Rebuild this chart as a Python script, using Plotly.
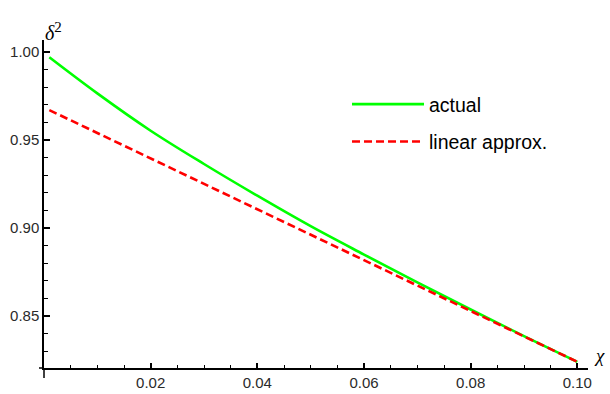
import plotly.graph_objects as go

# data
chi = [0.001, 0.01, 0.02, 0.03, 0.04, 0.05, 0.06, 0.07, 0.08, 0.09, 0.10]
delta2_actual = [0.9970, 0.9765, 0.9553, 0.9364, 0.9184, 0.9011, 0.8850, 0.8692, 0.8538, 0.8387, 0.8241]
delta2_linear = [0.9670, 0.9540, 0.9395, 0.9251, 0.9107, 0.8962, 0.8818, 0.8674, 0.8530, 0.8385, 0.8241]
x_ticks = [0.02, 0.04, 0.06, 0.08, 0.10]
y_ticks = [0.85, 0.90, 0.95, 1.00]
x_range = [0.0, 0.102]
y_range = [0.8206, 1.0068]

fig = go.Figure()
fig.add_trace(go.Scatter(x=chi, y=delta2_actual, mode="lines", name="actual",
                         line=dict(color="#00ff00", width=2.6, shape="spline"),
                         legendgroup="a"))
fig.add_trace(go.Scatter(x=chi, y=delta2_linear, mode="lines", name="linear approx.",
                         line=dict(color="#ff0000", width=2.6, dash="8px,4px"),
                         legendgroup="b"))

tickfont = dict(family="Liberation Sans, Arial, sans-serif", size=15, color="#2a2a2a")
fig.update_layout(
    width=610, height=394,
    margin=dict(l=44.3, r=22, t=40, b=26, autoexpand=False),
    paper_bgcolor="white", plot_bgcolor="white",
    showlegend=True,
    legend=dict(x=0.557, y=0.863, xanchor="left", yanchor="top",
                font=dict(family="Liberation Sans, Arial, sans-serif", size=19.5, color="#000000"),
                bgcolor="rgba(0,0,0,0)", itemwidth=72,
                traceorder="grouped", tracegroupgap=9),
    xaxis=dict(range=x_range, showgrid=False, zeroline=False, showline=True,
               linecolor="black", linewidth=1.5, ticks="inside", ticklen=5,
               tickcolor="black", tickwidth=1.5, tickvals=x_ticks,
               ticktext=[f"{v:.2f}" for v in x_ticks], tickfont=tickfont,
               minor=dict(dtick=0.005, tick0=0, ticks="inside", ticklen=3,
                          tickcolor="black", tickwidth=1.3)),
    yaxis=dict(range=y_range, showgrid=False, zeroline=False, showline=True,
               linecolor="black", linewidth=1.5, ticks="inside", ticklen=6,
               tickcolor="black", tickwidth=1.5, tickvals=y_ticks,
               ticktext=[f"{v:.2f}" for v in y_ticks], tickfont=tickfont,
               minor=dict(dtick=0.01, tick0=0.8, ticks="inside", ticklen=4,
                          tickcolor="black", tickwidth=1.3)),
)
# small overshoot of the axis lines past their crossing point
fig.add_shape(type="line", xref="paper", yref="paper", x0=0, x1=0, y0=0, y1=-10 / 328,
              line=dict(color="black", width=1.5))
fig.add_shape(type="line", xref="paper", yref="paper", x0=0, x1=-5 / 543.7, y0=0, y1=0,
              line=dict(color="black", width=1.5))
fig.add_annotation(text="<i>δ</i><sup><span style='font-size:15px'>2</span></sup>",
                   xref="paper", yref="paper",
                   x=0.0, y=1.0, yshift=23, xshift=-1, showarrow=False,
                   font=dict(family="Liberation Serif, serif", size=20, color="#000"))
fig.add_annotation(text="<i>χ</i>", xref="paper", yref="paper",
                   x=1.0, y=0.0, xshift=19, showarrow=False,
                   font=dict(family="Liberation Serif, serif", size=19, color="#000"))
fig.write_html("out.html")
